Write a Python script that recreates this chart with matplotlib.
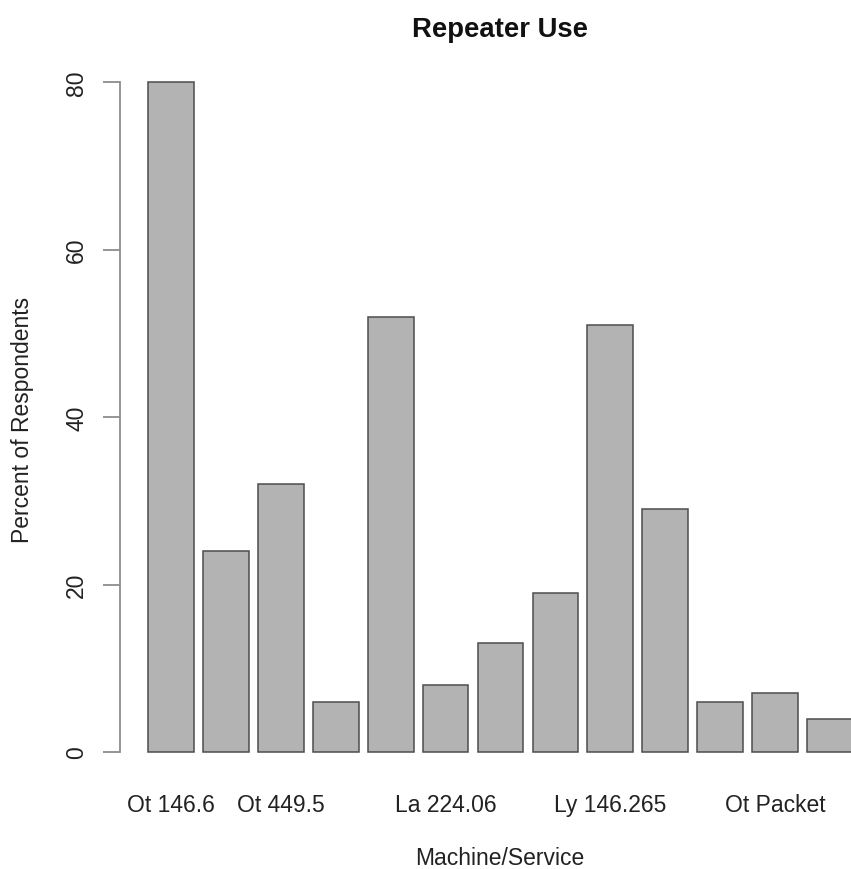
import numpy as np
import matplotlib
matplotlib.use("Agg")
from matplotlib import pyplot as plt

# data
values = [80, 24, 32, 6, 52, 8, 13, 19, 51, 29, 6, 7, 4]
# R only drew the labels that did not overlap
names = ["Ot 146.6", "", "Ot 449.5", "", "", "La 224.06", "",
         "", "Ly 146.265", "", "", "Ot Packet", ""]
yticks = [0, 20, 40, 60, 80]

plt.rcParams['font.family'] = ['Liberation Sans', 'DejaVu Sans']

W, H = 851, 870
fig = plt.figure(figsize=(W / 100, H / 100), dpi=100)

# plot region in pixels (R barplot, xlim extended 4%)
left, right, top, bottom = 120, 881, 56.2, 779.8
ax = fig.add_axes([left / W, 1 - bottom / H, (right - left) / W, (bottom - top) / H])

# bar centres like R: width 1, space 0.2
x = 0.7 + 1.2 * np.arange(len(values))
ax.bar(x, values, width=1.0, color="#b3b3b3", edgecolor="#4d4d4d", linewidth=1.1)

ax.set_xlim(0.2 - 0.616, 15.6 + 0.616)
ax.set_ylim(-3.2, 83.2)

for s in ["top", "right", "bottom"]:
    ax.spines[s].set_visible(False)
ax.spines["left"].set_bounds(0, 80)
ax.spines["left"].set_color("#8c8c8c")
ax.spines["left"].set_linewidth(1.3)

ax.set_yticks(yticks)
ax.set_yticklabels([str(v) for v in yticks], rotation=90, va="center")
ax.tick_params(axis="y", length=12, width=1.3, color="#8c8c8c", pad=11,
               labelsize=16.5, labelcolor="#222222")

ax.set_xticks(x)
ax.set_xticklabels(names)
ax.tick_params(axis="x", length=0, pad=10, labelsize=16.5, labelcolor="#222222")

fig.text(500 / W, 1 - 30 / H, "Repeater Use", ha="center", va="center",
         fontsize=19.8, fontweight="bold", color="#111111")
fig.text(500 / W, 1 - 859 / H, "Machine/Service", ha="center", va="center",
         fontsize=16.5, color="#222222")
fig.text(23 / W, 1 - 420 / H, "Percent of Respondents", ha="center", va="center",
         rotation=90, fontsize=16.5, color="#222222")

fig.savefig("out.png", dpi=100)
